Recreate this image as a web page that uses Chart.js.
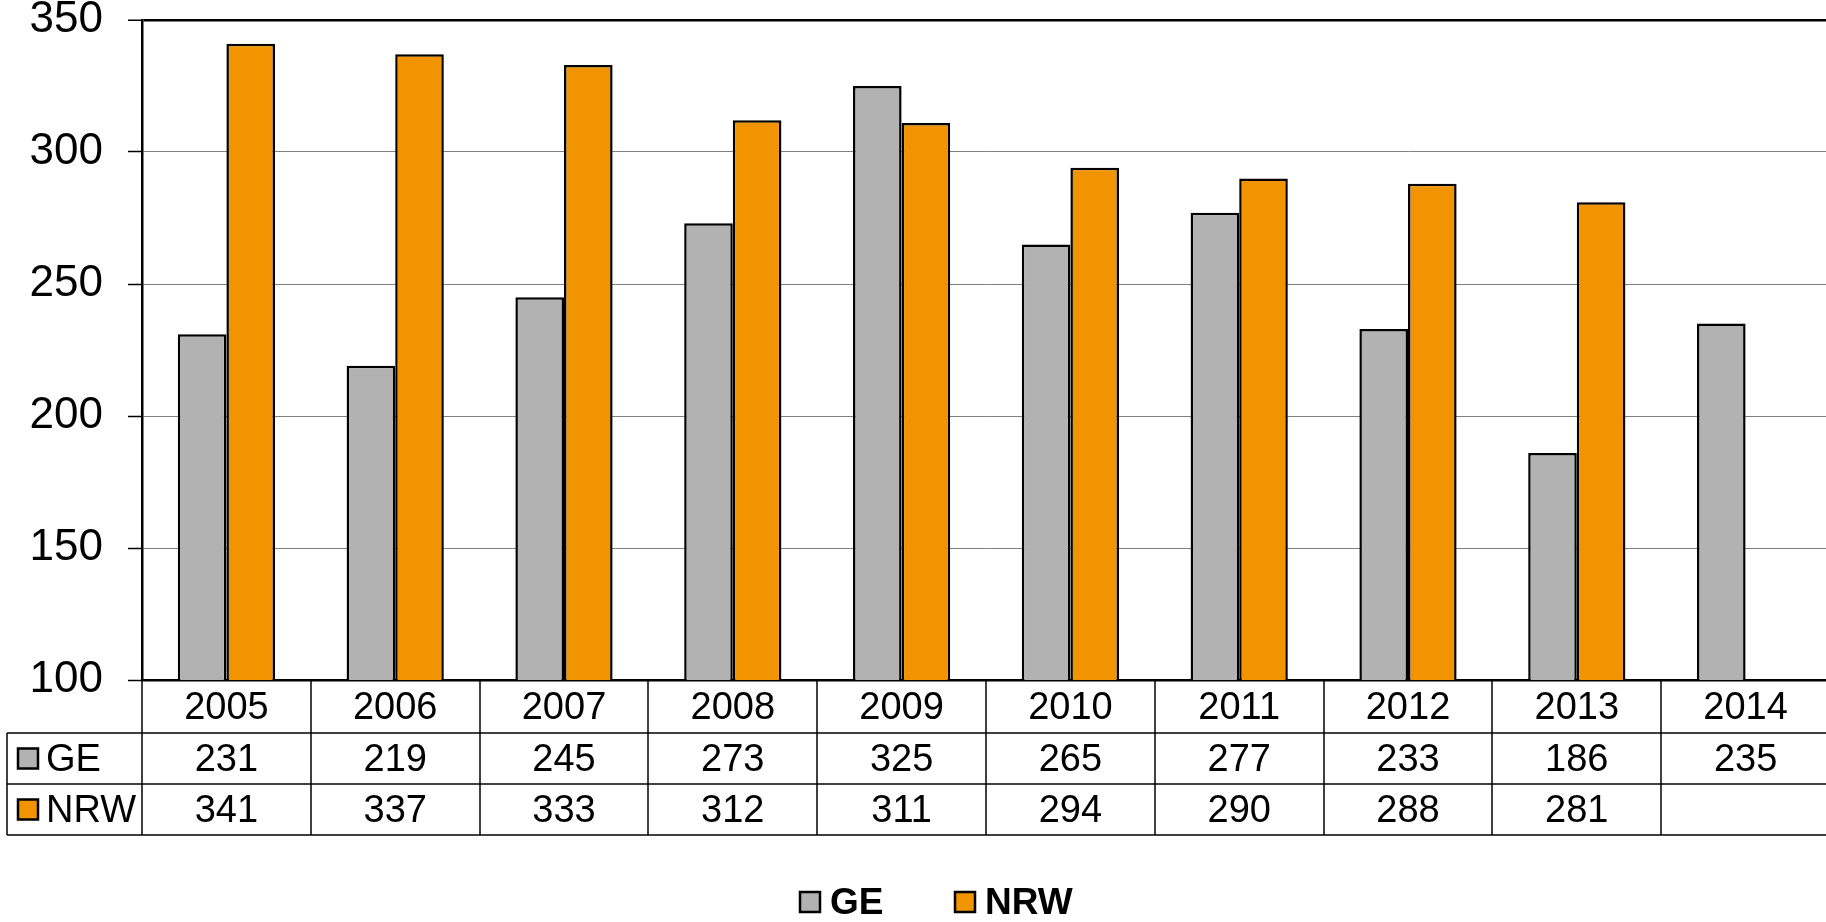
<!DOCTYPE html>
<html>
<head>
<meta charset="utf-8">
<script src="https://cdn.jsdelivr.net/npm/chart.js@4.4.1/dist/chart.umd.min.js"></script>
<style>
  html, body { margin: 0; padding: 0; background: #fff; overflow: hidden; }
  #wrap { width: 1826px; height: 922px; overflow: hidden; }
</style>
</head>
<body>
<div id="wrap"><canvas id="chart" width="1830" height="922"></canvas></div>
<script>
// ---------- Data ----------
const years = ["2005", "2006", "2007", "2008", "2009", "2010", "2011", "2012", "2013", "2014"];
const geValues = [231, 219, 245, 273, 325, 265, 277, 233, 186, 235];
const nrwValues = [341, 337, 333, 312, 311, 294, 290, 288, 281, null];
const seriesNames = ["GE", "NRW"];
const yTicks = [100, 150, 200, 250, 300, 350];

const GRAY = "#B2B2B2";
const ORANGE = "#F29400";
const FONT = "'Liberation Sans', Arial, sans-serif";

// ---------- Data table + legend plugin ----------
const tablePlugin = {
  id: "dataTable",
  afterDraw(chart) {
    const { ctx, chartArea } = chart;
    const x = chart.scales.x;
    const top = chartArea.bottom;
    const rowY = [top, top + 53, top + 104, top + 155];
    const leftEdge = 7;
    const right = chartArea.right;
    const series = [
      { name: seriesNames[0], color: GRAY, values: geValues },
      { name: seriesNames[1], color: ORANGE, values: nrwValues },
    ];

    ctx.save();
    ctx.strokeStyle = "#000";
    ctx.lineWidth = 1.5;

    // horizontal lines
    for (let r = 1; r < rowY.length; r++) {
      ctx.beginPath();
      ctx.moveTo(leftEdge, rowY[r]);
      ctx.lineTo(right, rowY[r]);
      ctx.stroke();
    }
    // left border of the legend column
    ctx.beginPath();
    ctx.moveTo(leftEdge, rowY[1]);
    ctx.lineTo(leftEdge, rowY[3]);
    ctx.stroke();
    // column boundaries
    for (let i = 0; i <= years.length; i++) {
      const bx = Math.round(x.getPixelForValue(i - 0.5));
      ctx.beginPath();
      ctx.moveTo(bx, rowY[0]);
      ctx.lineTo(bx, rowY[3]);
      ctx.stroke();
    }

    ctx.fillStyle = "#000";
    ctx.font = "38px " + FONT;
    ctx.textAlign = "center";
    ctx.textBaseline = "middle";
    years.forEach((yr, i) => {
      const cx = x.getPixelForValue(i);
      ctx.fillText(yr, cx, (rowY[0] + rowY[1]) / 2 + 2);
      series.forEach((s, k) => {
        const v = s.values[i];
        if (v != null) ctx.fillText(String(v), cx, (rowY[k + 1] + rowY[k + 2]) / 2 + 2);
      });
    });

    // row headers
    ctx.textAlign = "left";
    series.forEach((s, k) => {
      const cy = (rowY[k + 1] + rowY[k + 2]) / 2;
      ctx.fillStyle = s.color;
      ctx.fillRect(18, cy - 10, 20, 20);
      ctx.lineWidth = 2.5;
      ctx.strokeRect(18, cy - 10, 20, 20);
      ctx.fillStyle = "#000";
      ctx.fillText(s.name, 46, cy + 2);
    });

    // bottom legend
    const legendItems = [
      { name: seriesNames[0], color: GRAY, x: 800 },
      { name: seriesNames[1], color: ORANGE, x: 955 },
    ];
    ctx.font = "bold 37px " + FONT;
    legendItems.forEach((it) => {
      const cy = 902;
      ctx.fillStyle = it.color;
      ctx.fillRect(it.x, cy - 10, 20, 20);
      ctx.lineWidth = 2.5;
      ctx.strokeStyle = "#000";
      ctx.strokeRect(it.x, cy - 10, 20, 20);
      ctx.fillStyle = "#000";
      ctx.fillText(it.name, it.x + 30, cy + 2);
    });
    ctx.restore();
  },
};

// ---------- Chart ----------
new Chart(document.getElementById("chart"), {
  type: "bar",
  data: {
    labels: years,
    datasets: [
      {
        label: seriesNames[0],
        data: geValues,
        backgroundColor: GRAY,
        borderColor: "#000",
        borderWidth: 2.5,
        borderSkipped: "start",
      },
      {
        label: seriesNames[1],
        data: nrwValues,
        backgroundColor: ORANGE,
        borderColor: "#000",
        borderWidth: 2.5,
        borderSkipped: "start",
      },
    ],
  },
  options: {
    responsive: false,
    animation: false,
    layout: { padding: { top: 20, left: 0, right: 0, bottom: 0 } },
    datasets: { bar: { barPercentage: 1, categoryPercentage: 0.576 } },
    plugins: { legend: { display: false }, tooltip: { enabled: false } },
    scales: {
      x: {
        ticks: { display: false },
        grid: { display: false },
        border: { color: "#000", width: 2.5 },
        afterFit: (s) => { s.height = 242; s.paddingLeft = 0; s.paddingRight = 0; },
      },
      y: {
        min: yTicks[0],
        max: yTicks[yTicks.length - 1],
        afterBuildTicks: (s) => { s.ticks = yTicks.map((v) => ({ value: v })); },
        ticks: { color: "#000", padding: 25, font: { family: FONT, size: 44 } },
        grid: {
          color: (c) => (c.tick && c.tick.value === 350 ? "#000" : "#808080"),
          lineWidth: (c) => (c.tick && c.tick.value === 350 ? 2.5 : 1),
          tickColor: "#000",
          tickLength: 14,
          tickWidth: 1.5,
        },
        border: { color: "#000", width: 2.5 },
        afterFit: (s) => { s.width = 142; s.paddingTop = 0; s.paddingBottom = 0; },
      },
    },
  },
  plugins: [tablePlugin],
});
</script>
</body>
</html>
